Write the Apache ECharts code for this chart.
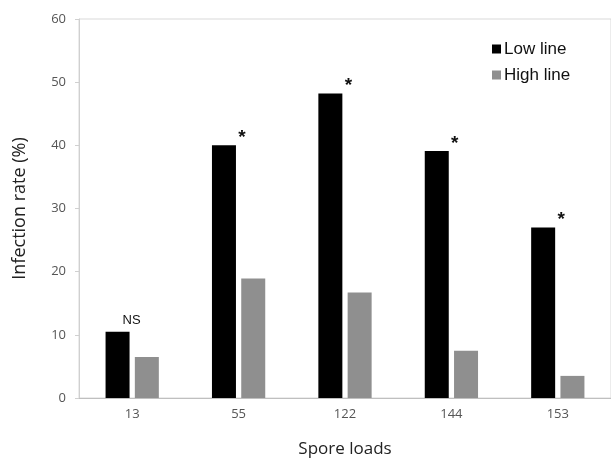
<!DOCTYPE html>
<html>
<head>
<meta charset="utf-8">
<script src="https://cdn.jsdelivr.net/npm/echarts@6/dist/echarts.min.js"></script>
<style>html,body{margin:0;padding:0;background:#fff}#c{width:611px;height:463px}</style>
</head>
<body>
<div id="c"></div>
<script>
var categories = ['13', '55', '122', '144', '153'];
var lowLine = [10.5, 40.0, 48.2, 39.1, 27.0];
var highLine = [6.5, 18.9, 16.7, 7.5, 3.5];
var significance = ['NS', '*', '*', '*', '*'];
var yTicks = { min: 0, max: 60, interval: 10 };

var chart = echarts.init(document.getElementById('c'), null, { renderer: 'canvas' });

var lowData = lowLine.map(function (v, i) {
  var isNS = significance[i] === 'NS';
  return {
    value: v,
    label: {
      show: true,
      position: 'top',
      formatter: significance[i],
      fontFamily: 'Liberation Sans',
      fontSize: isNS ? 13 : 19,
      fontWeight: isNS ? 'normal' : 'bold',
      color: '#111',
      distance: isNS ? 5 : 2,
      offset: isNS ? [14, 0] : [18, 4]
    }
  };
});

chart.setOption({
  animation: false,
  backgroundColor: '#fff',
  grid: {
    left: 79, top: 19, width: 535, height: 380,
    show: true, borderColor: '#d9d9d9', borderWidth: 1, backgroundColor: 'transparent'
  },
  legend: {
    orient: 'vertical',
    left: 487, top: 34,
    itemWidth: 9, itemHeight: 9, itemGap: 6,
    icon: 'rect',
    textStyle: { fontFamily: 'Liberation Sans', fontSize: 17, color: '#111', lineHeight: 20, padding: [0, 0, 0, -2] },
    data: ['Low line', 'High line']
  },
  xAxis: {
    type: 'category',
    data: categories,
    name: 'Spore loads',
    nameLocation: 'middle',
    nameGap: 43,
    nameTextStyle: { fontFamily: 'Open Sans', fontSize: 17, color: '#222' },
    axisLine: { lineStyle: { color: '#bfbfbf', width: 1 } },
    axisTick: { show: false },
    axisLabel: { fontFamily: 'Open Sans', fontSize: 13, color: '#555', margin: 10 },
    splitLine: { show: false }
  },
  yAxis: {
    type: 'value',
    min: yTicks.min, max: yTicks.max, interval: yTicks.interval,
    name: 'Infection rate (%)',
    nameLocation: 'middle',
    nameGap: 50,
    nameTextStyle: { fontFamily: 'Open Sans', fontSize: 18, color: '#222' },
    axisLine: { show: true, lineStyle: { color: '#d0d0d0', width: 1 } },
    axisTick: { show: true, inside: false, length: 4, lineStyle: { color: '#d0d0d0' } },
    axisLabel: { fontFamily: 'Open Sans', fontSize: 13, color: '#555', margin: 13 },
    splitLine: { show: false }
  },
  series: [
    {
      name: 'Low line', type: 'bar', data: lowData,
      barWidth: 24, barGap: '22%',
      itemStyle: { color: '#000000' }
    },
    {
      name: 'High line', type: 'bar', data: highLine,
      barWidth: 24,
      itemStyle: { color: '#8f8f8f' }
    }
  ]
});
</script>
</body>
</html>
